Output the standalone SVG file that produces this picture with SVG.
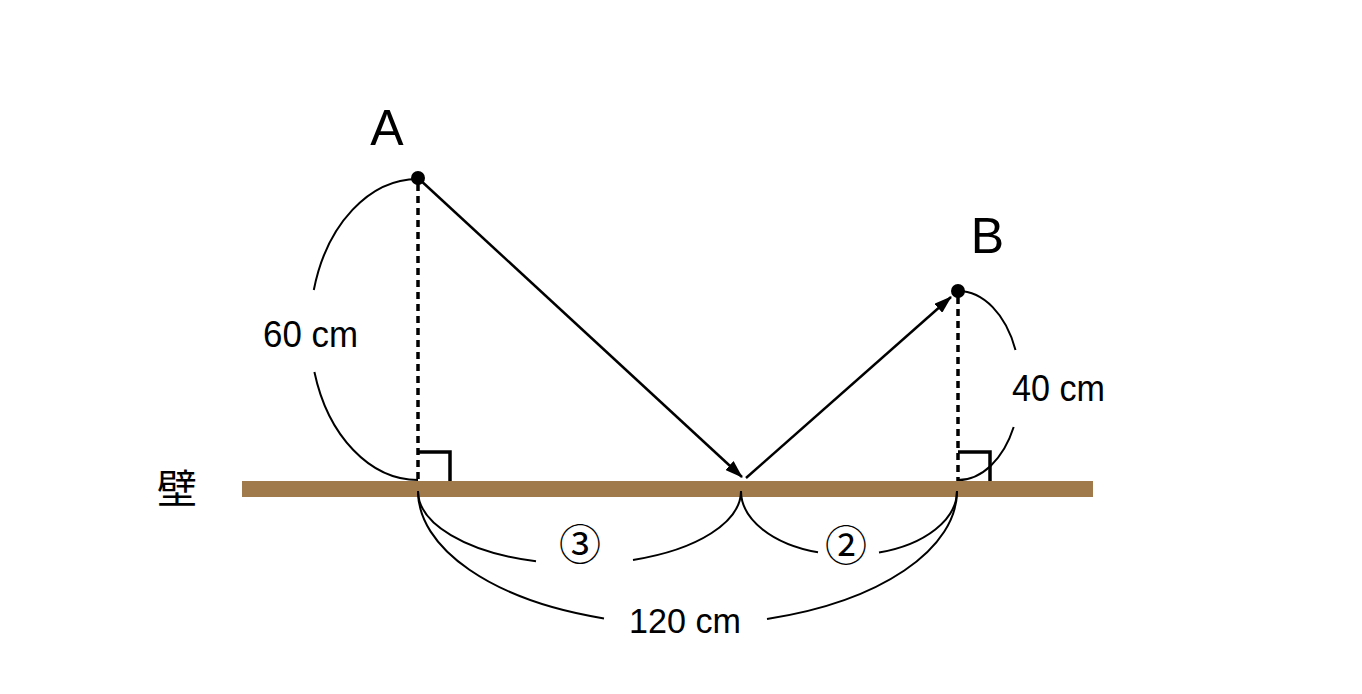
<svg xmlns="http://www.w3.org/2000/svg" width="1362" height="694" viewBox="0 0 1362 694">
<style>
.lbl{font-family:"Liberation Sans","Noto Sans",sans-serif;fill:#000;}
.cjk{font-family:"Noto Sans CJK JP","Noto Sans CJK SC",sans-serif;fill:#000;}
.dash{stroke:#000;stroke-width:3.5;stroke-dasharray:7 5;fill:none;}
.ra{stroke:#000;stroke-width:3.5;fill:none;}
.arc{stroke:#000;stroke-width:2;fill:none;}
.ray{stroke:#000;stroke-width:2.5;fill:none;marker-end:url(#ah);}
</style>
<defs>
<marker id="ah" markerUnits="userSpaceOnUse" markerWidth="18" markerHeight="12" refX="17" refY="6" orient="auto">
<path d="M0,0 L18,6 L0,12 Z" fill="#000"/>
</marker>
</defs>
<rect width="1362" height="694" fill="#fff"/>
<g id="wall">
<rect x="242" y="481" width="851" height="16" fill="#A07A4A"/>
<text class="cjk" x="177" y="503" font-size="40" text-anchor="middle">壁</text>
</g>
<g id="guides">
<line class="dash" x1="418" y1="184" x2="418" y2="481"/>
<line class="dash" x1="958" y1="297" x2="958" y2="481"/>
<path class="ra" d="M418 452 H450 V481"/>
<path class="ra" d="M958 452 H990 V481"/>
</g>
<g id="dimensions">
<path class="arc" d="M418 179 A108 150.5 0 0 0 313.8 290"/>
<path class="arc" d="M314.4 372 A108 150.5 0 0 0 418 480"/>
<path class="arc" d="M958 291 A62 94.5 0 0 1 1015.5 350"/>
<path class="arc" d="M1013.7 427 A62 94.5 0 0 1 958 480"/>
<path class="arc" d="M418 491 A161.5 73 0 0 0 536 561.3"/>
<path class="arc" d="M633 559.9 A161.5 73 0 0 0 741 491"/>
<path class="arc" d="M741 491 A108 64 0 0 0 818 552.3"/>
<path class="arc" d="M879 552.5 A108 64 0 0 0 957 491"/>
<path class="arc" d="M418 491 A269.5 134 0 0 0 604 618.4"/>
<path class="arc" d="M767 619 A269.5 134 0 0 0 957 491"/>
<text class="lbl" x="263" y="347" font-size="36" textLength="95" lengthAdjust="spacingAndGlyphs">60 cm</text>
<text class="lbl" x="1012" y="401" font-size="36" textLength="93" lengthAdjust="spacingAndGlyphs">40 cm</text>
<text class="lbl" x="629" y="633" font-size="35" textLength="112" lengthAdjust="spacingAndGlyphs">120 cm</text>
<text class="cjk" x="580" y="560" font-size="42" text-anchor="middle">③</text>
<text class="cjk" x="846" y="561" font-size="42" text-anchor="middle">②</text>
</g>
<g id="connectors">
<line class="ray" x1="418" y1="178" x2="742" y2="477"/>
<line class="ray" x1="746" y1="478" x2="951" y2="297"/>
</g>
<g id="pointA">
<circle cx="418" cy="178" r="7" fill="#000"/>
<text class="lbl" x="387" y="145" font-size="50" text-anchor="middle">A</text>
</g>
<g id="pointB">
<circle cx="958" cy="291" r="7" fill="#000"/>
<text class="lbl" x="987.5" y="253" font-size="50" text-anchor="middle">B</text>
</g>
</svg>
